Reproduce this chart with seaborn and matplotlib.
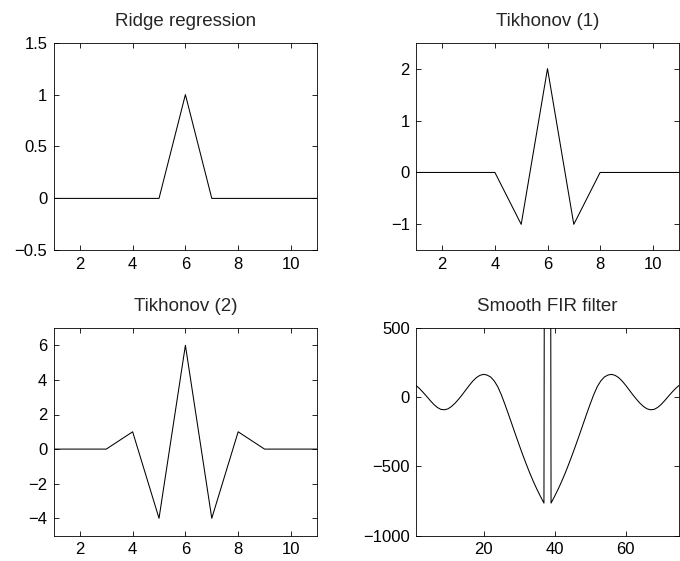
import matplotlib
matplotlib.use("Agg")
import matplotlib.pyplot as plt
import seaborn as sns
import pandas as pd
from matplotlib.ticker import FuncFormatter

sns.set_style("white")
plt.rcParams["font.family"] = ["Liberation Sans", "DejaVu Sans"]

# Regularization kernels on an 11-tap grid
taps = list(range(1, 12))
ridge = [0, 0, 0, 0, 0, 1, 0, 0, 0, 0, 0]
tikhonov1 = [0, 0, 0, 0, -1, 2, -1, 0, 0, 0, 0]
tikhonov2 = [0, 0, 0, 1, -4, 6, -4, 1, 0, 0, 0]

# Smooth FIR filter kernel on a 75-tap grid (centre tap far above the plotted range)
fir_taps = list(range(1, 76))
fir_values = [
    85, 62, 35, 6, -24, -52, -74, -88, -91, -84,
    -67, -43, -14, 18, 52, 86, 117, 142, 158, 165,
    160, 146, 118, 76, 18, -50, -122, -196, -270, -343,
    -414, -482, -547, -608, -664, -716, -765,
    15000,
    -765, -716, -664, -608, -547, -482, -414, -343, -270, -196,
    -122, -50, 18, 76, 118, 146, 160, 165, 158, 142,
    117, 86, 52, 18, -14, -43, -67, -84, -91, -88,
    -74, -52, -24, 6, 35, 62, 85,
]

titles = ["Ridge regression", "Tikhonov (1)", "Tikhonov (2)", "Smooth FIR filter"]
panels = [
    (taps, ridge, (1, 11), (-0.5, 1.5), [2, 4, 6, 8, 10], [-0.5, 0, 0.5, 1, 1.5]),
    (taps, tikhonov1, (1, 11), (-1.5, 2.5), [2, 4, 6, 8, 10], [-1, 0, 1, 2]),
    (taps, tikhonov2, (1, 11), (-5, 7), [2, 4, 6, 8, 10], [-4, -2, 0, 2, 4, 6]),
    (fir_taps, fir_values, (1, 75), (-1000, 500), [20, 40, 60], [-1000, -500, 0, 500]),
]

W, H = 680, 561
fig = plt.figure(figsize=(W / 100, H / 100), dpi=100)
rects = [
    (53.5, 42.7, 317.3, 250.3),
    (416.0, 42.7, 679.0, 250.3),
    (53.5, 328.0, 317.3, 535.6),
    (416.0, 328.0, 679.0, 535.6),
]

fmt = FuncFormatter(lambda v, p: ("%g" % v).replace("-", "\u2212"))

for (x0, y0, x1, y1), title, (xs, ys, xl, yl, xt, yt) in zip(rects, titles, panels):
    ax = fig.add_axes([x0 / W, 1 - y1 / H, (x1 - x0) / W, (y1 - y0) / H])
    df = pd.DataFrame({"n": xs, "h": ys})
    sns.lineplot(data=df, x="n", y="h", ax=ax, color="black", linewidth=0.75)
    ax.set_xlim(*xl)
    ax.set_ylim(*yl)
    ax.set_xticks(xt)
    ax.set_yticks(yt)
    ax.xaxis.set_major_formatter(fmt)
    ax.yaxis.set_major_formatter(fmt)
    ax.set_xlabel("")
    ax.set_ylabel("")
    ax.set_title(title, fontsize=13.5, pad=12)
    ax.tick_params(direction="in", length=3.5, width=0.6, labelsize=12,
                   top=True, right=True, bottom=True, left=True, pad=4.5,
                   color="black", labelcolor="black")
    for s in ax.spines.values():
        s.set_visible(True)
        s.set_color("black")
        s.set_linewidth(0.6)

fig.savefig("out.png", dpi=100, facecolor="white")
